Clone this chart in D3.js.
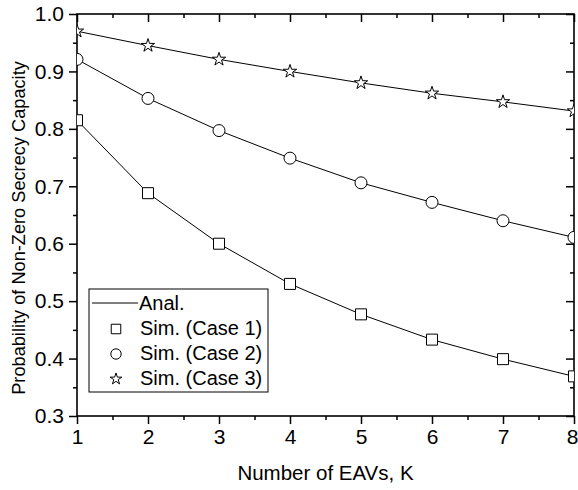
<!DOCTYPE html>
<html>
<head>
<meta charset="utf-8">
<script src="https://d3js.org/d3.v7.min.js"></script>
<style>
    body { margin: 0; background: #fff; }
    text { font-family: "Liberation Sans", Arial, sans-serif; fill: #000; }
</style>
</head>
<body>
<div id="chart-area"></div>
<script>
// Data
var kValues = [1, 2, 3, 4, 5, 6, 7, 8];
var case1 = [0.815, 0.688, 0.600, 0.530, 0.477, 0.433, 0.399, 0.369];
var case2 = [0.921, 0.853, 0.797, 0.749, 0.706, 0.672, 0.640, 0.611];
var case3 = [0.970, 0.945, 0.921, 0.900, 0.880, 0.862, 0.847, 0.831];
var xTicks = [1, 2, 3, 4, 5, 6, 7, 8];
var yTicks = [0.3, 0.4, 0.5, 0.6, 0.7, 0.8, 0.9, 1.0];
var legendLabels = ["Anal.", "Sim. (Case 1)", "Sim. (Case 2)", "Sim. (Case 3)"];

var margin = { left: 77, right: 4, top: 14, bottom: 74 };

var width = 578 - margin.left - margin.right,
    height = 490 - margin.top - margin.bottom;

var svg = d3.select("#chart-area")
    .append("svg")
        .attr("width", 578)
        .attr("height", 490);

var g = svg.append("g")
    .attr("transform", "translate(" + margin.left + ", " + margin.top + ")");

// Scales
var x = d3.scaleLinear()
    .domain([1, 8])
    .range([0, width]);

var y = d3.scaleLinear()
    .domain([0.3, 1.0])
    .range([height, 0]);

// minor tick positions (halfway between majors)
var xMinor = d3.range(1.5, 8, 1);
var yMinor = d3.range(0.35, 1.0, 0.1);

// Clip
svg.append("defs").append("clipPath")
    .attr("id", "plot-clip")
    .append("rect")
        .attr("width", width)
        .attr("height", height);

// X Axis (bottom)
var xAxisCall = d3.axisBottom(x)
    .tickValues(xTicks)
    .tickFormat(d3.format("d"))
    .tickSizeInner(8)
    .tickSizeOuter(0)
    .tickPadding(5);
g.append("g")
    .attr("class", "x axis")
    .attr("transform", "translate(0," + height + ")")
    .call(xAxisCall);
g.append("g")
    .attr("class", "x axis minor")
    .attr("transform", "translate(0," + height + ")")
    .call(d3.axisBottom(x).tickValues(xMinor).tickFormat("").tickSizeInner(4).tickSizeOuter(0));

// top axis, ticks point down into the plot
g.append("g")
    .attr("class", "x axis top")
    .call(d3.axisBottom(x).tickValues(xTicks).tickFormat("").tickSizeInner(8).tickSizeOuter(0));
g.append("g")
    .attr("class", "x axis top minor")
    .call(d3.axisBottom(x).tickValues(xMinor).tickFormat("").tickSizeInner(4).tickSizeOuter(0));

// Y Axis (left)
var yAxisCall = d3.axisLeft(y)
    .tickValues(yTicks)
    .tickFormat(d3.format(".1f"))
    .tickSizeInner(8)
    .tickSizeOuter(0)
    .tickPadding(5);
g.append("g")
    .attr("class", "y axis")
    .call(yAxisCall);
g.append("g")
    .attr("class", "y axis minor")
    .call(d3.axisLeft(y).tickValues(yMinor).tickFormat("").tickSizeInner(4).tickSizeOuter(0));

// right axis, ticks point left into the plot
g.append("g")
    .attr("class", "y axis right")
    .attr("transform", "translate(" + width + ",0)")
    .call(d3.axisLeft(y).tickValues(yTicks).tickFormat("").tickSizeInner(8).tickSizeOuter(0));
g.append("g")
    .attr("class", "y axis right minor")
    .attr("transform", "translate(" + width + ",0)")
    .call(d3.axisLeft(y).tickValues(yMinor).tickFormat("").tickSizeInner(4).tickSizeOuter(0));

g.selectAll(".axis path.domain").remove();
g.selectAll(".axis line").attr("stroke", "#000").attr("stroke-width", 1.5);
g.selectAll(".axis text")
    .attr("font-size", "21px")
    .attr("font-family", "Liberation Sans, Arial, sans-serif")
    .attr("fill", "#000");

// keep the last x label inside the window
g.selectAll(".x.axis .tick text")
    .filter(function(d){ return d === 8; })
    .attr("dx", "-2");

// Frame
g.append("rect")
    .attr("width", width)
    .attr("height", height)
    .attr("fill", "none")
    .attr("stroke", "#000")
    .attr("stroke-width", 1.6);

// X Label
g.append("text")
    .attr("x", width / 2)
    .attr("y", height + 64)
    .attr("font-size", "20.5px")
    .attr("text-anchor", "middle")
    .text("Number of EAVs, K");

// Y Label
svg.append("text")
    .attr("x", -228)
    .attr("y", 25)
    .attr("font-size", "18.2px")
    .attr("text-anchor", "middle")
    .attr("transform", "rotate(-90)")
    .text("Probability of Non-Zero Secrecy Capacity");

// Series
var series = [
    { values: case1, symbol: d3.symbolSquare, size: 121 },
    { values: case2, symbol: d3.symbolCircle, size: 113 },
    { values: case3, symbol: d3.symbolStar, size: 55 }
];

var plot = g.append("g").attr("clip-path", "url(#plot-clip)");

var line = d3.line()
    .x(function(d, i){ return x(kValues[i]); })
    .y(function(d){ return y(d); });

series.forEach(function(s) {
    plot.append("path")
        .datum(s.values)
        .attr("d", line)
        .attr("fill", "none")
        .attr("stroke", "#000")
        .attr("stroke-width", 1);
});

series.forEach(function(s) {
    plot.selectAll(null)
        .data(s.values)
        .enter()
        .append("path")
            .attr("transform", function(d, i){ return "translate(" + x(kValues[i]) + "," + y(d) + ")"; })
            .attr("d", d3.symbol().type(s.symbol).size(s.size))
            .attr("fill", "#fff")
            .attr("stroke", "#000")
            .attr("stroke-width", 1);
});

// Legend
var legend = svg.append("g")
    .attr("transform", "translate(89, 289)");

legend.append("rect")
    .attr("width", 179)
    .attr("height", 103)
    .attr("fill", "#fff")
    .attr("stroke", "#000")
    .attr("stroke-width", 1);

legend.append("line")
    .attr("x1", 3)
    .attr("x2", 49)
    .attr("y1", 14)
    .attr("y2", 14)
    .attr("stroke", "#000")
    .attr("stroke-width", 1);

series.forEach(function(s, i) {
    legend.append("path")
        .attr("transform", "translate(27," + (40 + i * 25) + ")")
        .attr("d", d3.symbol().type(s.symbol).size(s.size * 0.75))
        .attr("fill", "#fff")
        .attr("stroke", "#000")
        .attr("stroke-width", 1);
});

legend.selectAll("text.legend-label")
    .data(legendLabels)
    .enter()
    .append("text")
        .attr("class", "legend-label")
        .attr("x", function(d, i){ return i === 0 ? 50 : 51; })
        .attr("y", function(d, i){ return 14 + i * 25; })
        .attr("dy", "0.35em")
        .attr("font-size", "20px")
        .text(function(d){ return d; });
</script>
</body>
</html>
